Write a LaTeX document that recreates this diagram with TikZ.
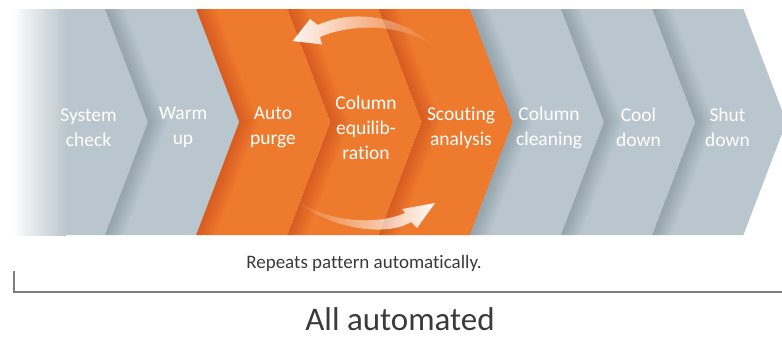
\documentclass[tikz,border=0pt]{standalone}
\usepackage{fontspec}
\setmainfont{Carlito}[Ligatures={NoCommon}]
\usetikzlibrary{fadings}
\definecolor{cgrey}{HTML}{BAC6CD}
\definecolor{corange}{HTML}{EE7A2E}
\definecolor{sgrey}{HTML}{6F818C}
\definecolor{sorange}{HTML}{C23E16}
\definecolor{txtdark}{HTML}{3A3A3A}
\definecolor{brk}{HTML}{7F7F7F}
\tikzfading[name=fadeR, left color=transparent!0, middle color=transparent!25, right color=transparent!100]
\tikzfading[name=fadeL, left color=transparent!100, middle color=transparent!25, right color=transparent!0]
\newcommand\chevpath[1]{(#1,9) -- ++(91.2,0) -- ++(43,113) -- ++(-43,113) -- ++(-91.2,0) -- ++(43,-113) -- cycle}
\tikzset{
  lbl/.style={text=white, align=center, font=\fontsize{19.5}{25}\selectfont, inner sep=0pt},
  arrowshape/.style={fill=white, fill opacity=0.95},
  bracket/.style={draw=brk, line width=1.1pt}
}
\begin{document}
\begin{tikzpicture}[x=1pt,y=-1pt]
\useasboundingbox (0,0) rectangle (782,340);
\clip (0,0) rectangle (782,340);
% first chevron with fade-in
\fill[cgrey] (12,9) -- (105,9) -- (148,122) -- (105,235) -- (12,235) -- cycle;
\shade[left color=white, right color=cgrey] (12,9) rectangle (66,235);
% other chevrons
\foreach \L in {105,469.8,561,652.2} \fill[cgrey] \chevpath{\L};
\foreach \L in {196.2,287.4,378.6} \fill[corange] \chevpath{\L};
% shadows along notches
\foreach \L/\sc in {105/sgrey,196.2/sorange,287.4/sorange,378.6/sorange,469.8/sgrey,561/sgrey,652.2/sgrey}{
  \begin{scope}
    \clip \chevpath{\L};
    \foreach \w in {36,33,...,3}
      \draw[\sc, line width=\w pt, opacity=0.045] (\L,9) -- ++(43,113) -- ++(-43,113);
  \end{scope}
}
% curved arrows
\fill[arrowshape, path fading=fadeR] (292.7,41) -- (310,19) -- (318,25)
  .. controls (345,12) and (395,10) .. (435,47)
  .. controls (400,22) and (350,24) .. (320,37) -- (322,44.5) -- cycle;
\fill[arrowshape, path fading=fadeL] (293,198)
  .. controls (325,228) and (385,238) .. (411,222) -- (417,228) -- (435,203)
  -- (402,209) -- (405,213)
  .. controls (375,226) and (325,222) .. (293,198) -- cycle;
% labels
\node[lbl] (sys) at (88.5,127.5) {System\\check};
\node[lbl] (warm) at (183,127.5) {Warm\\up};
\node[lbl] (purge) at (273,127.5) {Auto\\purge};
\node[lbl] (equil) at (366,127.5) {Column\\equilib-\\ration};
\node[lbl] (scout) at (461,127.5) {Scouting\\analysis};
\node[lbl] (clean) at (549,127.5) {Column\\cleaning};
\node[lbl] (cool) at (638.5,127.5) {Cool\\down};
\node[lbl] (shut) at (727.5,127.5) {Shut\\down};
% bottom
\node[anchor=base, text=txtdark, font=\fontsize{19}{22}\selectfont, inner sep=0pt] (rep) at (364,268) {Repeats pattern automatically.};
\coordinate (bt) at (14,271);
\coordinate (bc) at (14,292);
\coordinate (br) at (782,292);
\draw[bracket] (bt) -- (bc) -- (br);
\node[anchor=base, text=txtdark, font=\fontsize{33}{36}\selectfont, inner sep=0pt] (all) at (400,330) {All automated};
\end{tikzpicture}
\end{document}
